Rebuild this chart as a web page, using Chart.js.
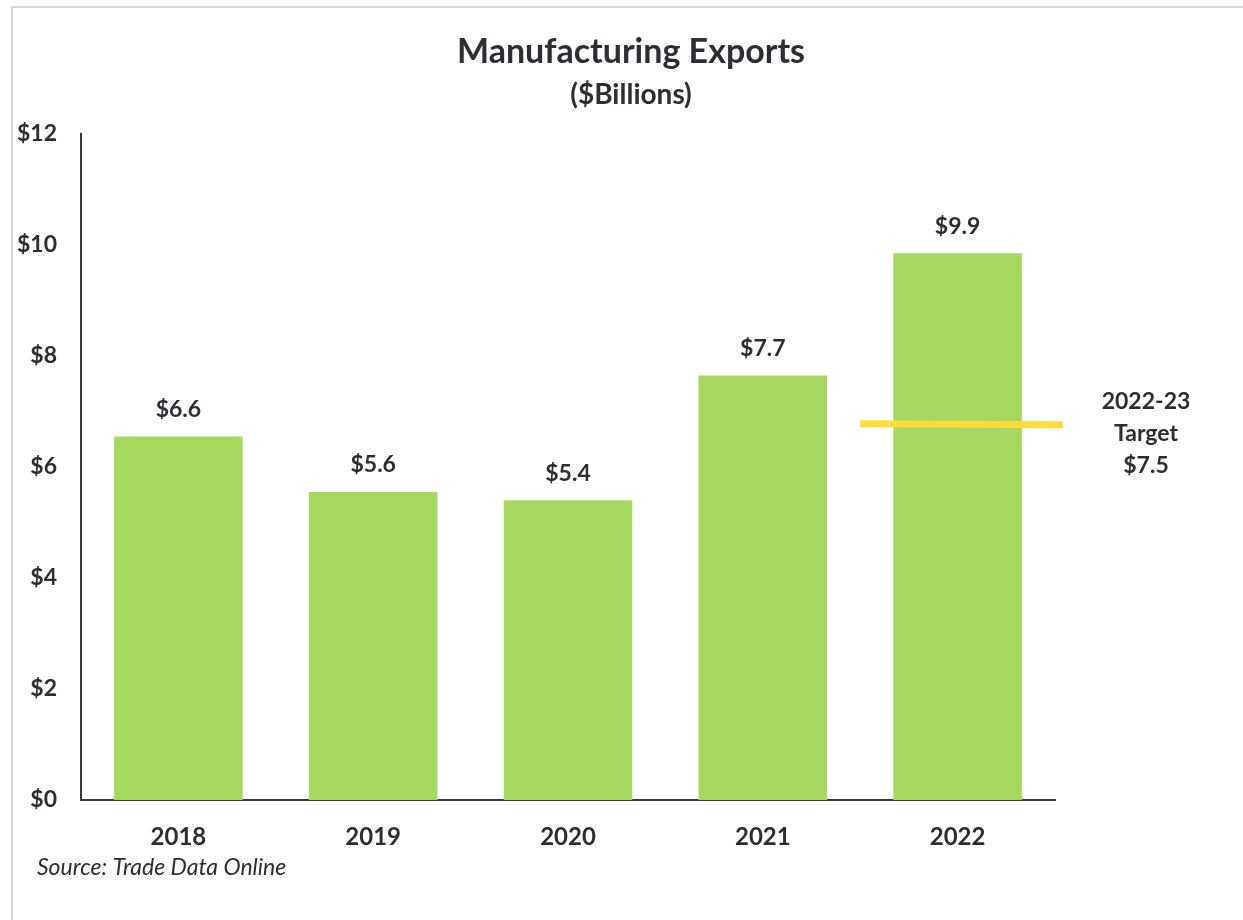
<!DOCTYPE html>
<html>
<head>
<meta charset="utf-8">
<script src="https://cdn.jsdelivr.net/npm/chart.js@4"></script>
<style>
  html, body { margin: 0; padding: 0; background: #fff; }
  #wrap { position: relative; width: 1243px; height: 920px; overflow: hidden; }
  #frame { position: absolute; left: 11px; top: 6px; width: 1300px; height: 1000px;
           border-top: 2px solid #d9d9d9; border-left: 2px solid #d9d9d9; }
  canvas { position: absolute; left: 0; top: 0; }
</style>
</head>
<body>
<div id="wrap">
  <div id="frame"></div>
  <canvas id="chart" width="1243" height="920"></canvas>
</div>
<script>
// chart data
const years = ['2018', '2019', '2020', '2021', '2022'];
const exportsValues = [6.55, 5.55, 5.4, 7.65, 9.85];
const valueLabels = ['$6.6', '$5.6', '$5.4', '$7.7', '$9.9'];
const targetX = [3.5, 4.54];           // positions on the hidden linear axis
const targetY = [6.78, 6.76];          // where the yellow line sits
const targetText = ['2022-23', 'Target', '$7.5'];
const yTicks = [0, 2, 4, 6, 8, 10, 12];

const fontFamily = 'Lato, "Open Sans", sans-serif';
const textColor = '#2b2f33';

// draws title, value labels, target label and source
const textPlugin = {
    id: 'textPlugin',
    afterDatasetsDraw(chart) {
        const ctx = chart.ctx;
        ctx.save();
        ctx.fillStyle = textColor;
        ctx.textAlign = 'center';
        ctx.textBaseline = 'middle';

        ctx.font = 'bold 34px ' + fontFamily;
        ctx.fillText('Manufacturing Exports', 631, 52);
        ctx.font = 'bold 28px ' + fontFamily;
        ctx.fillText('($Billions)', 631, 95);

        // value labels above bars
        ctx.font = 'bold 23px ' + fontFamily;
        chart.getDatasetMeta(0).data.forEach((bar, i) => {
            ctx.fillText(valueLabels[i], bar.x, bar.y - 27);
        });

        // target label
        targetText.forEach((t, i) => {
            ctx.fillText(t, 1146, 402 + i * 32);
        });

        ctx.font = 'italic 23px ' + fontFamily;
        ctx.textAlign = 'left';
        ctx.fillText('Source: Trade Data Online', 37, 868);
        ctx.restore();
    }
};

const ctx = document.getElementById('chart').getContext('2d');
new Chart(ctx, {
    type: 'bar',
    data: {
        labels: years,
        datasets: [{
            label: 'Exports',
            data: exportsValues,
            backgroundColor: '#a6d75f',
            barPercentage: 0.66,
            categoryPercentage: 1.0,
            grouped: false,
            order: 2
        }, {
            type: 'line',
            label: 'Target',
            data: targetX.map((x, i) => ({ x: x, y: targetY[i] })),
            xAxisID: 'x2',
            borderColor: '#fddc3c',
            borderWidth: 7,
            pointRadius: 0,
            clip: false,
            order: 1
        }]
    },
    options: {
        responsive: false,
        animation: false,
        layout: { padding: { top: 134, right: 188, left: 0, bottom: 0 } },
        plugins: {
            legend: { display: false },
            tooltip: { enabled: false }
        },
        scales: {
            x: {
                grid: { display: false, drawTicks: false },
                border: { color: '#3a3a3a', width: 2 },
                ticks: {
                    color: textColor,
                    padding: 23,
                    font: { family: fontFamily, size: 24, weight: 'bold' }
                },
                afterFit(scale) { scale.height = 120; }
            },
            x2: {
                type: 'linear',
                display: false,
                offset: false,
                min: -0.5,
                max: 4.5
            },
            y: {
                min: 0,
                max: 12,
                afterBuildTicks(scale) { scale.ticks = yTicks.map(v => ({ value: v })); },
                grid: { display: false, drawTicks: false },
                border: { color: '#3a3a3a', width: 2 },
                ticks: {
                    color: textColor,
                    padding: 24,
                    font: { family: fontFamily, size: 23, weight: 'bold' },
                    callback: v => '$' + v
                },
                afterFit(scale) { scale.width = 81; }
            }
        }
    },
    plugins: [textPlugin]
});
</script>
</body>
</html>
